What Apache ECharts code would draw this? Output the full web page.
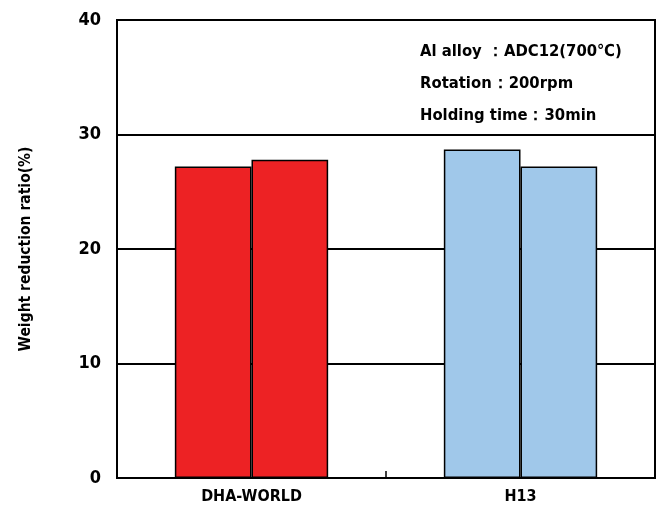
<!DOCTYPE html>
<html>
<head>
<meta charset="utf-8">
<script src="https://cdn.jsdelivr.net/npm/echarts@6/dist/echarts.min.js"></script>
<style>html,body{margin:0;padding:0;background:#fff}#c{width:662px;height:521px}</style>
</head>
<body>
<div id="c"></div>
<script>
var categories = ['DHA-WORLD', 'H13'];
var series1 = [27.2, 28.7];
var series2 = [27.8, 27.2];
var barColors = ['#ED2224', '#A0C8EA'];
var yTicks = [0, 10, 20, 30, 40];
var notes = ['Al alloy \uFF1AADC12(700\u2103)', 'Rotation\uFF1A200rpm', 'Holding time\uFF1A30min'];

var FF = '"DejaVu Sans Condensed", "Liberation Sans Narrow", "Arial Narrow", sans-serif';
var chart = echarts.init(document.getElementById('c'));
function mk(vals) {
  return {
    type: 'bar',
    data: vals.map(function (v, i) {
      return { value: v, itemStyle: { color: barColors[i] } };
    }),
    barGap: '0%',
    barCategoryGap: '43%',
    itemStyle: { borderColor: '#000', borderWidth: 1.5 },
    z: 3
  };
}
chart.setOption({
  animation: false,
  grid: { left: 117, right: 7, top: 20, bottom: 43, show: true, borderColor: '#000', borderWidth: 2, backgroundColor: 'transparent' },
  xAxis: {
    type: 'category',
    data: categories,
    axisLine: { lineStyle: { color: '#000', width: 2 } },
    axisTick: { show: true, inside: true, length: 7, lineStyle: { color: '#000', width: 1.5 } },
    axisLabel: { color: '#000', fontFamily: FF, fontWeight: 'bold', fontSize: 16, margin: 11 }
  },
  yAxis: {
    type: 'value',
    min: 0, max: 40, interval: 10,
    name: 'Weight reduction ratio(%)',
    nameLocation: 'middle',
    nameGap: 83,
    nameTextStyle: { color: '#000', fontFamily: FF, fontWeight: 'bold', fontSize: 15.5 },
    axisLine: { show: true, lineStyle: { color: '#000', width: 2 } },
    axisTick: { show: false },
    splitLine: { show: true, lineStyle: { color: '#000', width: 2 } },
    axisLabel: {
      color: '#000', fontFamily: FF, fontWeight: 'bold', fontSize: 18, margin: 16,
      formatter: function (v) { return yTicks.indexOf(v) >= 0 ? String(v) : ''; }
    }
  },
  series: [mk(series1), mk(series2)],
  graphic: notes.map(function (t, i) {
    return {
      type: 'text', left: 420, top: 43 + i * 32, z: 10,
      style: { text: t, fill: '#000', font: 'bold 16.5px ' + FF }
    };
  })
});
</script>
</body>
</html>
